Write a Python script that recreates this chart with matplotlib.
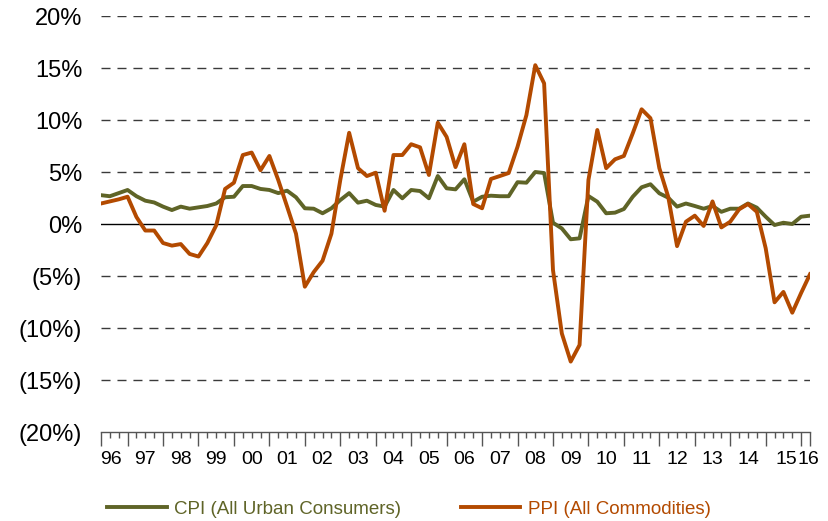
import matplotlib
matplotlib.use("Agg")
import matplotlib.pyplot as plt
from matplotlib.ticker import FixedLocator, NullFormatter
import pandas as pd

# ---- data (quarterly, 1996Q2 .. 2016Q2), % change year over year ----
quarters = pd.period_range("1996Q2", "2016Q2", freq="Q")

cpi = [2.8, 2.7, 3.0, 3.3, 2.7, 2.27, 2.1, 1.7, 1.37, 1.7,
       1.5, 1.63, 1.76, 2.0, 2.6, 2.65, 3.68, 3.68, 3.4, 3.3,
       3.0, 3.23, 2.6, 1.54, 1.5, 1.06, 1.54, 2.33, 3.0, 2.08,
       2.27, 1.86, 1.7, 3.3, 2.5, 3.3, 3.2, 2.5, 4.64, 3.46,
       3.36, 4.33, 2.17, 2.65, 2.75, 2.7, 2.7, 4.05, 4.0, 5.03,
       4.93, 0.15, -0.4, -1.44, -1.35, 2.72, 2.17, 1.06, 1.12, 1.47,
       2.65, 3.56, 3.85, 2.98, 2.56, 1.7, 2.0, 1.76, 1.5, 1.76,
       1.2, 1.5, 1.5, 2.0, 1.6, 0.73, -0.07, 0.15, 0.03, 0.73,
       0.83]

ppi = [2.0, 2.2, 2.4, 2.65, 0.7, -0.6, -0.6, -1.8, -2.05, -1.9,
       -2.85, -3.1, -1.8, -0.1, 3.4, 4.0, 6.66, 6.9, 5.2, 6.57,
       4.26, 1.7, -0.9, -6.0, -4.6, -3.5, -0.9, 4.26, 8.8, 5.4,
       4.64, 4.96, 1.3, 6.66, 6.66, 7.7, 7.4, 4.74, 9.77, 8.4,
       5.5, 7.7, 1.95, 1.54, 4.36, 4.64, 4.93, 7.46, 10.5, 15.3,
       13.55, -4.4, -10.5, -13.2, -11.6, 4.26, 9.07, 5.4, 6.25, 6.57,
       8.75, 11.06, 10.2, 5.4, 2.65, -2.1, 0.25, 0.83, -0.16, 2.2,
       -0.3, 0.25, 1.44, 1.95, 1.2, -2.3, -7.5, -6.5, -8.5, -6.6,
       -4.8]

series_names = ["CPI (All Urban Consumers)", "PPI (All Commodities)"]
year_labels = ["96", "97", "98", "99", "00", "01", "02", "03", "04", "05",
               "06", "07", "08", "09", "10", "11", "12", "13", "14", "15", "16"]
y_ticks = [-20, -15, -10, -5, 0, 5, 10, 15, 20]

# ---- styling ----
CPI_COLOR = "#5f6427"
PPI_COLOR = "#b34a00"
FONT = "Liberation Sans"

plt.rcParams["font.family"] = [FONT, "DejaVu Sans"]

fig = plt.figure(figsize=(8.29, 5.21), dpi=100)
W, H = 829, 521
left, right, top, bottom = 101, 810, 16.3, 432.3
ax = fig.add_axes([left / W, 1 - bottom / H, (right - left) / W, (bottom - top) / H])

x = list(range(len(quarters)))
l1, = ax.plot(x, cpi, color=CPI_COLOR, lw=2.8, solid_joinstyle="round", zorder=3)
l2, = ax.plot(x, ppi, color=PPI_COLOR, lw=2.8, solid_joinstyle="round", zorder=4)

ax.set_xlim(0, len(quarters) - 1)
ax.set_ylim(-20, 20)

# gridlines
for v in y_ticks:
    if v == 0:
        ax.axhline(0, color="black", lw=1.0, zorder=2)
    elif v > -20:
        ax.axhline(v, color="#3a3a3a", lw=1.0, ls=(0, (6.5, 5)), zorder=1)

# spines
for s in ["top", "right", "left"]:
    ax.spines[s].set_visible(False)
ax.spines["bottom"].set_color("#555555")
ax.spines["bottom"].set_linewidth(1.0)

# y axis
ax.set_yticks(y_ticks)
ax.set_yticklabels([("(%d%%)" % -v) if v < 0 else ("%d%%" % v) for v in y_ticks],
                   fontsize=17, color="black")
ax.tick_params(axis="y", length=0, pad=13.5)

# x axis ticks: quarters minor, year starts major
q1_idx = [i for i, q in enumerate(quarters) if q.quarter == 1]
major = [0] + q1_idx + [len(quarters) - 1]
ax.xaxis.set_major_locator(FixedLocator(major))
ax.xaxis.set_minor_locator(FixedLocator(x))
ax.xaxis.set_major_formatter(NullFormatter())
ax.xaxis.set_minor_formatter(NullFormatter())
ax.tick_params(axis="x", which="major", length=10, width=1.0, color="#555555", direction="out")
ax.tick_params(axis="x", which="minor", length=4, width=1.0, color="#555555", direction="out")

# year labels centered within each year's span
bounds = major
label_pos = [(bounds[k] + bounds[k + 1]) / 2 for k in range(len(bounds) - 1)]
label_pos[0] = 1.1
label_pos[-2] = 77.3
label_pos[-1] = 79.8
for pos, lab in zip(label_pos, year_labels):
    ax.annotate(lab, xy=(pos, 0), xycoords=("data", "axes fraction"),
                xytext=(0, -27), textcoords="offset pixels",
                ha="center", va="center", fontsize=14, color="black")

# legend
leg = fig.legend([l1, l2], series_names, loc="center left",
                 bbox_to_anchor=(107.5 / W, 12 / H), ncol=2, frameon=False,
                 fontsize=13.5, handlelength=3.15, handletextpad=0.4,
                 columnspacing=3.2, borderpad=0, borderaxespad=0)
for t, c in zip(leg.get_texts(), [CPI_COLOR, PPI_COLOR]):
    t.set_color(c)

fig.savefig("out.png", dpi=100)
